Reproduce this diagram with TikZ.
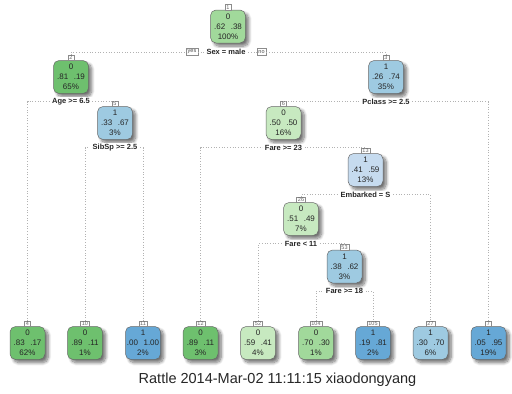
\documentclass[tikz,border=0pt]{standalone}
\usepackage{fontspec}
\setmainfont{Liberation Sans}
\usetikzlibrary{shadows.blur}

% fills: green for class 0, blue for class 1, darker for purer nodes
\definecolor{gLight}{HTML}{C7E9C0}
\definecolor{gMid}{HTML}{A1D99B}
\definecolor{gDark}{HTML}{6EC06E}
\definecolor{bLight}{HTML}{C6DBEF}
\definecolor{bMid}{HTML}{9ECAE1}
\definecolor{bDark}{HTML}{66A8D6}

\tikzset{
  treebox/.style={draw=black!60, line width=0.5pt, rounded corners=5.5pt,
    minimum width=35pt, minimum height=33pt, inner sep=0pt, align=center,
    font=\fontsize{8}{10}\selectfont, text=black!85,
    blur shadow={shadow xshift=3.2pt, shadow yshift=-3.2pt,
      shadow blur radius=3pt, shadow blur steps=10, shadow opacity=55}},
  tagbox/.style={draw=black!45, fill=white, line width=0.4pt, anchor=south,
    inner xsep=1.4pt, inner ysep=0.7pt, yshift=-0.3pt,
    font=\fontsize{5.5}{6}\selectfont, text=black!60},
  splitlab/.style={fill=white, inner xsep=2.5pt, inner ysep=1pt,
    font=\bfseries\fontsize{7.5}{9}\selectfont, text=black!85},
  yesno/.style={draw=black!45, fill=white, line width=0.4pt,
    inner xsep=1.5pt, inner ysep=0.8pt, minimum height=7pt,
    font=\fontsize{5.5}{6}\selectfont, text=black!70},
  conn/.style={draw=black!30, line width=0.6pt, dash pattern=on 0.7pt off 2pt},
}
\newcommand{\probs}[3]{#1\\#2\hspace{0.7em}#3}

\begin{document}
\begin{tikzpicture}[x=1pt, y=-1pt]
\useasboundingbox (0,0) rectangle (512,394);

% ---- inner nodes ----
\node[treebox, fill=gMid]   (n1)  at (228,26.5)  {\probs{0}{.62}{.38}\\100\%};
\node[treebox, fill=gDark]  (n2)  at (71,77)     {\probs{0}{.81}{.19}\\65\%};
\node[treebox, fill=bMid]   (n3)  at (386,77)    {\probs{1}{.26}{.74}\\35\%};
\node[treebox, fill=bMid]   (n5)  at (115,123)   {\probs{1}{.33}{.67}\\3\%};
\node[treebox, fill=gLight] (n6)  at (283.5,123) {\probs{0}{.50}{.50}\\16\%};
\node[treebox, fill=bLight] (n13) at (365.5,170) {\probs{1}{.41}{.59}\\13\%};
\node[treebox, fill=gLight] (n26) at (301,219)   {\probs{0}{.51}{.49}\\7\%};
\node[treebox, fill=bMid]   (n53) at (344.5,266.5) {\probs{1}{.38}{.62}\\3\%};

% ---- leaves ----
\node[treebox, fill=gDark]  (n4)   at (27.5,343) {\probs{0}{.83}{.17}\\62\%};
\node[treebox, fill=gDark]  (n10)  at (85,343)   {\probs{0}{.89}{.11}\\1\%};
\node[treebox, fill=bDark]  (n11)  at (143,343)  {\probs{1}{.00}{1.00}\\2\%};
\node[treebox, fill=gDark]  (n12)  at (200.5,343) {\probs{0}{.89}{.11}\\3\%};
\node[treebox, fill=gLight] (n52)  at (258,343)  {\probs{0}{.59}{.41}\\4\%};
\node[treebox, fill=gMid]   (n104) at (316,343)  {\probs{0}{.70}{.30}\\1\%};
\node[treebox, fill=bDark]  (n105) at (373,343)  {\probs{1}{.19}{.81}\\2\%};
\node[treebox, fill=bMid]   (n27)  at (430.5,343) {\probs{1}{.30}{.70}\\6\%};
\node[treebox, fill=bDark]  (n7)   at (488.5,343) {\probs{1}{.05}{.95}\\19\%};

% ---- node number tags ----
\foreach \k in {1,2,3,4,5,6,7,10,11,12,13,26,27,52,53,104,105}
  \node[tagbox] (t\k) at (n\k.north) {\k};

% ---- split labels ----
\node[splitlab] (s1)  at (226,52)    {Sex = male};
\node[yesno]    (yes) at (192,52)    {yes};
\node[yesno]    (no)  at (261.5,52)  {no};
\node[splitlab] (s2)  at ([yshift=-8pt]n2.south)  {Age >= 6.5};
\node[splitlab] (s3)  at ([yshift=-8pt]n3.south)  {Pclass >= 2.5};
\node[splitlab] (s5)  at ([yshift=-8pt]n5.south)  {SibSp >= 2.5};
\node[splitlab] (s6)  at ([yshift=-8pt]n6.south)  {Fare >= 23};
\node[splitlab] (s13) at ([yshift=-8pt]n13.south) {Embarked = S};
\node[splitlab] (s26) at ([yshift=-8pt]n26.south) {Fare < 11};
\node[splitlab] (s53) at ([yshift=-8pt]n53.south) {Fare >= 18};

% ---- connectors ----
\draw[conn] (t2.north) |- (yes);
\draw[conn] (yes) -- (s1);
\draw[conn] (s1) -- (no);
\draw[conn] (no) -| (t3.north);
\foreach \p/\l/\r in {2/4/5, 5/10/11, 3/6/7, 6/12/13, 13/26/27, 26/52/53, 53/104/105} {
  \draw[conn] (t\l.north) |- (s\p);
  \draw[conn] (s\p) -| (t\r.north);
}

% ---- caption ----
\node[font=\fontsize{14.5}{16}\selectfont, text=black!85] (caption) at (277.5,380)
  {Rattle 2014-Mar-02 11:11:15 xiaodongyang};
\end{tikzpicture}
\end{document}
